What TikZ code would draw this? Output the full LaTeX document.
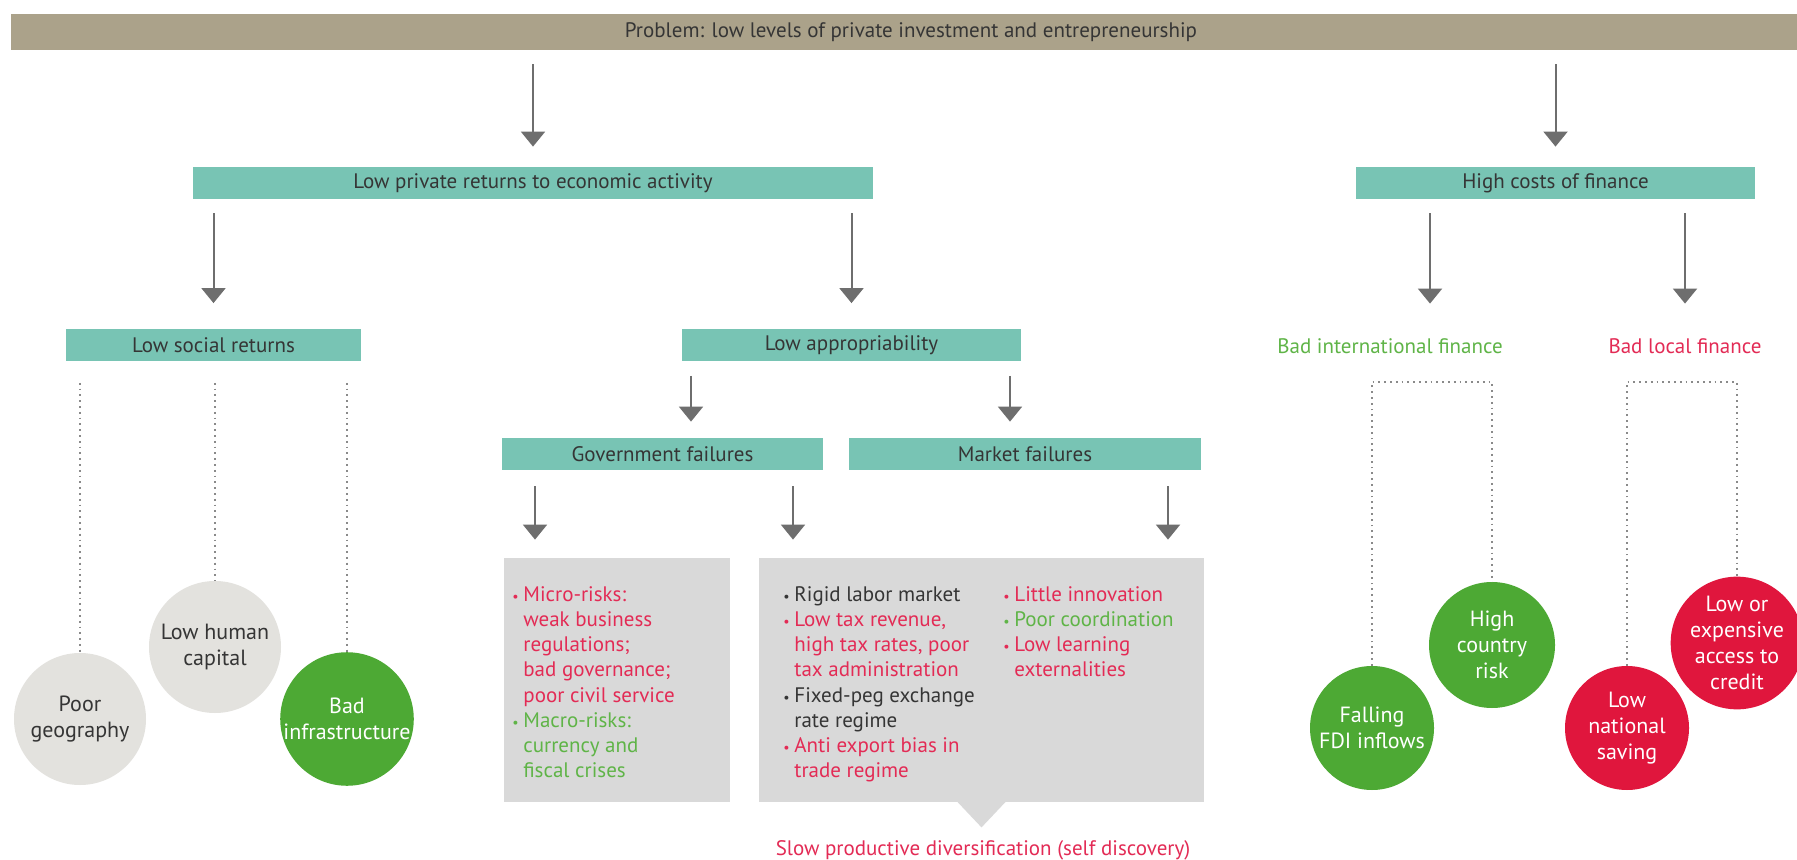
\documentclass[tikz,border=0pt]{standalone}
\usepackage{fontspec}
\setmainfont{PT Sans}
\usepackage{xcolor}
\usepackage{tikz}
\usetikzlibrary{arrows.meta,positioning,calc}
\definecolor{barfill}{HTML}{ABA28A}
\definecolor{tealbg}{HTML}{78C4B4}
\definecolor{boxgrey}{HTML}{D9D9D9}
\definecolor{ballgrey}{HTML}{E3E2DE}
\definecolor{good}{HTML}{4DA934}
\definecolor{warn}{HTML}{E0163D}
\definecolor{goodtxt}{HTML}{5FB447}
\definecolor{warntxt}{HTML}{E32B55}
\definecolor{ink}{HTML}{353535}
\definecolor{arrowgrey}{HTML}{6E6E6E}
\definecolor{dotgrey}{HTML}{8A8A8A}
\tikzset{
  banner/.style={fill=barfill,minimum height=18pt,inner sep=0pt,text=ink},
  tealbox/.style={fill=tealbg,minimum height=16pt,inner sep=0pt,text=ink},
  greycard/.style={fill=boxgrey,inner sep=0pt},
  ball/.style={circle,inner sep=0pt,align=center,
               font=\fontsize{11}{13}\selectfont},
  greyball/.style={ball,fill=ballgrey,text=ink,minimum size=66pt},
  greenball/.style={ball,fill=good,text=white},
  redball/.style={ball,fill=warn,text=white,minimum size=62pt},
  arrowdown/.style={-{Triangle[length=7.5pt,width=12pt]},line width=1pt,
                    arrowgrey,shorten <=7pt,shorten >=9pt},
  dotline/.style={dotgrey,dotted,line width=0.9pt},
  listtext/.style={anchor=north west,align=left,inner sep=0pt,
                   font=\fontsize{10.5}{12.6}\selectfont},
}
\newcommand{\bul}{\makebox[5.5pt][l]{\scriptsize\textbullet}}
\newcommand{\contind}{\hspace*{5.5pt}}

\begin{document}
\begin{tikzpicture}[x=0.5pt,y=-0.5pt,font=\fontsize{10.5}{12.6}\selectfont]
  \fill[white] (0,0) rectangle (1797,860);
  \useasboundingbox (0,0) rectangle (1797,860);
  \node[banner,minimum width=893pt] (problem) at (904,32)
    {\hspace*{7pt}Problem: low levels of private investment and entrepreneurship};
  \node[tealbox,minimum width=340pt] (lowpriv) at (533,183)
    {Low private returns to economic activity};
  \node[tealbox,minimum width=199.5pt] (highcost) at (1555.5,183)
    {High costs of finance};
  \node[tealbox,minimum width=147.5pt] (social) at (213.5,345.5)
    {Low social returns};
  \node[tealbox,minimum width=169.5pt] (lowapp) at (851.5,345.5)
    {Low appropriability};
  \node[tealbox,minimum width=160.5pt] (govfail) at (662.5,454)
    {Government failures};
  \node[tealbox,minimum width=176pt] (mktfail) at (1025,454)
    {Market failures};
  \node[minimum height=16pt,text=goodtxt] (intfin) at (1390,346)
    {Bad international finance};
  \node[minimum height=16pt,text=warntxt] (locfin) at (1685,346)
    {Bad local finance};
  \node[greycard,minimum width=113pt,minimum height=122pt] (govrisk)
    at (617,680) {};
  \node[greycard,minimum width=222.5pt,minimum height=122pt] (mktrisk)
    at (981.5,680) {};
  \fill[boxgrey] ([xshift=-12.75pt,yshift=1pt]mktrisk.south)
    -- ([yshift=-12.5pt]mktrisk.south)
    -- ([xshift=12.75pt,yshift=1pt]mktrisk.south) -- cycle;
  \node[text=warntxt] (slowdiv) at (983,850)
    {Slow productive diversification (self discovery)};
  \node[listtext,text=warntxt] (govlist) at (512,586){%
    \bul Micro-risks:\\
    \contind weak business\\
    \contind regulations;\\
    \contind bad governance;\\
    \contind poor civil service\\
    \textcolor{goodtxt}{\bul Macro-risks:}\\
    \textcolor{goodtxt}{\contind currency and}\\
    \textcolor{goodtxt}{\contind fiscal crises}};
  \node[listtext,text=ink] (mktlist) at (783,586){%
    \bul Rigid labor market\\
    \textcolor{warntxt}{\bul Low tax revenue,}\\
    \textcolor{warntxt}{\contind high tax rates, poor}\\
    \textcolor{warntxt}{\contind tax administration}\\
    \bul Fixed-peg exchange\\
    \contind rate regime\\
    \textcolor{warntxt}{\bul Anti export bias in}\\
    \textcolor{warntxt}{\contind trade regime}};
  \node[listtext,text=warntxt] (extlist) at (1003,586){%
    \bul Little innovation\\
    \textcolor{goodtxt}{\bul Poor coordination}\\
    \bul Low learning\\
    \contind externalities};
  \node[greyball] (geo) at (80,719) {Poor\\geography};
  \node[greyball] (hum) at (215,647) {Low human\\capital};
  \node[greenball,minimum size=66pt] (infra) at (347,719) {Bad\\infrastructure};
  \node[greenball,minimum size=62pt] (fdi) at (1372,728) {Falling\\FDI inflows};
  \node[greenball,minimum size=63pt] (risk) at (1492,645) {High\\country\\risk};
  \node[redball] (sav) at (1627,728) {Low\\national\\saving};
  \node[redball] (credit) at (1737,643) {Low or\\expensive\\access to\\credit};
  \coordinate (finbar) at (0,382);
  \coordinate (intarr) at (1430,0);
  \coordinate (govarr) at (691,0);
  \coordinate (mktarr) at (1010,0);
  \coordinate (riskarr) at (535,0);
  \coordinate (crossarr) at (793,0);
  \coordinate (extarr) at (1168,0);
  \draw[arrowdown,shorten >=10pt] (problem.south -| lowpriv) -- (lowpriv.north);
  \draw[arrowdown,shorten >=10pt] (problem.south -| highcost) -- (highcost.north);
  \draw[arrowdown,shorten >=13pt] (lowpriv.south -| social) -- (social.north);
  \draw[arrowdown,shorten >=13pt] (lowpriv.south -| lowapp) -- (lowapp.north);
  \draw[arrowdown,shorten >=13pt] (highcost.south -| intarr) -- (intfin.north -| intarr);
  \draw[arrowdown,shorten >=13pt] (highcost.south -| locfin) -- (locfin.north);
  \draw[arrowdown,shorten >=8pt] (lowapp.south -| govarr) -- (govfail.north -| govarr);
  \draw[arrowdown,shorten >=8pt] (lowapp.south -| mktarr) -- (mktfail.north -| mktarr);
  \draw[arrowdown,shorten <=8pt] (govfail.south -| riskarr) -- (govrisk.north -| riskarr);
  \draw[arrowdown,shorten <=8pt] (govfail.south -| crossarr) -- (mktrisk.north -| crossarr);
  \draw[arrowdown,shorten <=8pt] (mktfail.south -| extarr) -- (mktrisk.north -| extarr);
  \draw[dotline,shorten <=10.5pt] (social.south -| geo.north) -- (geo.north);
  \draw[dotline,shorten <=10.5pt] (social.south -| hum.north) -- (hum.north);
  \draw[dotline,shorten <=10.5pt] (social.south -| infra.north) -- (infra.north);
  \draw[dotline] (fdi.north) -- (fdi.north |- finbar) -- (risk.north |- finbar)
    -- (risk.north);
  \draw[dotline] (sav.north) -- (sav.north |- finbar) -- (credit.north |- finbar)
    -- (credit.north);
\end{tikzpicture}
\end{document}
